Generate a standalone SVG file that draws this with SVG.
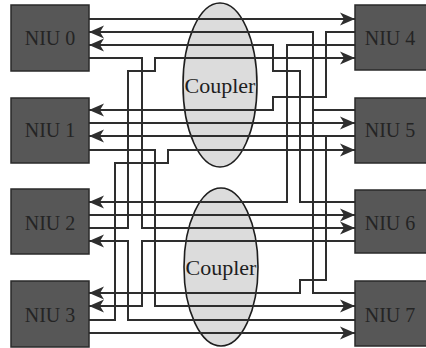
<svg xmlns="http://www.w3.org/2000/svg" width="426" height="348" viewBox="0 0 426 348">
<style>
.box{fill:#575757;stroke:#2a2a2a;stroke-width:1.5}
.lbl{font-family:"Liberation Serif","Times New Roman",serif;font-size:20px;fill:#242424;text-anchor:middle}
.cpl{fill:#dcdcdc;stroke:#1e1e1e;stroke-width:1.6}
.ctext{font-family:"Liberation Serif","Times New Roman",serif;font-size:22px;fill:#1e1e1e;text-anchor:middle}
.w{fill:none;stroke:#2e2e2e;stroke-width:2;stroke-linejoin:miter}
.a{marker-end:url(#arr)}
</style>
<defs>
<marker id="arr" markerUnits="userSpaceOnUse" markerWidth="16" markerHeight="16" viewBox="0 0 16 16" refX="15" refY="8" orient="auto">
<path d="M0,1.5 L15,8 L0,14.5 L4,8 z" fill="#2e2e2e"/>
</marker>
</defs>
<rect width="426" height="348" fill="#ffffff"/>
<g id="coupler-top"><ellipse class="cpl" cx="220" cy="85" rx="37" ry="82"/></g>
<g id="coupler-bottom"><ellipse class="cpl" cx="221" cy="267" rx="37" ry="79"/></g>
<g id="connectors">
<polyline class="w a" points="89,19 355,19"/>
<polyline class="w a" points="355,293 313,293 313,32 89,32"/>
<polyline class="w a" points="355,202 300,202 300,71 273,71 273,45 89,45"/>
<polyline class="w a" points="89,228 128,228 128,71 155,71 155,58 355,58"/>
<polyline class="w a" points="89,58 142,58 142,228 355,228"/>
<polyline class="w a" points="355,32 326,32 326,97 273,97 273,110 89,110"/>
<polyline class="w" points="355,110 313,110"/>
<polyline class="w a" points="89,123 355,123"/>
<polyline class="w a" points="355,136 89,136"/>
<polyline class="w a" points="326,136 326,280 300,280 300,293 89,293"/>
<polyline class="w a" points="89,320 115,320 115,163 168,163 168,150 355,150"/>
<polyline class="w a" points="89,150 155,150 155,306 355,306"/>
<polyline class="w a" points="355,45 287,45 287,202 89,202"/>
<polyline class="w a" points="89,215 355,215"/>
<polyline class="w a" points="355,241 142,241 142,306 89,306"/>
<polyline class="w a" points="355,320 128,320 128,241 89,241"/>
<polyline class="w a" points="89,333 355,333"/>
</g>
<g id="coupler-labels">
<text class="ctext" x="220" y="93">Coupler</text>
<text class="ctext" x="221" y="275">Coupler</text>
</g>
<g id="niu0"><rect class="box" x="11" y="5" width="78" height="66"/><text class="lbl" x="50" y="45">NIU 0</text></g>
<g id="niu1"><rect class="box" x="11" y="98" width="78" height="65"/><text class="lbl" x="50" y="137">NIU 1</text></g>
<g id="niu2"><rect class="box" x="11" y="189" width="78" height="65"/><text class="lbl" x="50" y="230">NIU 2</text></g>
<g id="niu3"><rect class="box" x="11" y="281" width="78" height="66"/><text class="lbl" x="50" y="322">NIU 3</text></g>
<g id="niu4"><rect class="box" x="355" y="5" width="74" height="65"/><text class="lbl" x="390" y="45">NIU 4</text></g>
<g id="niu5"><rect class="box" x="355" y="98" width="74" height="65"/><text class="lbl" x="390" y="137">NIU 5</text></g>
<g id="niu6"><rect class="box" x="355" y="190" width="74" height="63"/><text class="lbl" x="390" y="230">NIU 6</text></g>
<g id="niu7"><rect class="box" x="355" y="281" width="74" height="65"/><text class="lbl" x="390" y="322">NIU 7</text></g>
</svg>
